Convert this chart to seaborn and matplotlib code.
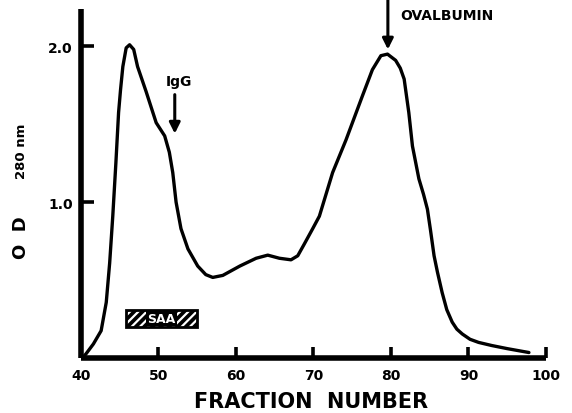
import matplotlib
matplotlib.use("Agg")
import matplotlib.pyplot as plt
from matplotlib.patches import Rectangle
import seaborn as sns
import pandas as pd

# elution profile
fraction = [40.2, 40.7, 41.6, 42.6, 43.26, 43.7, 44.1, 44.5, 44.85, 45.1,
            45.4, 45.83, 46.27, 46.8, 47.3, 48.4, 49.7, 50.8, 51.4, 51.84,
            52.27, 52.9, 53.8, 55.06, 56.1, 57.0, 58.3, 60.5, 62.6, 64.1,
            65.6, 67.1, 67.97, 68.8, 69.9, 70.76, 72.47, 74.2, 76.3, 77.6,
            78.7, 79.55, 80.6, 81.2, 81.7, 82.3, 82.77, 83.6, 84.2, 84.7,
            85.1, 85.56, 86.0, 86.6, 87.2, 87.9, 88.5, 89.2, 90.2, 91.3,
            93.0, 95.0, 97.8]
od_280 = [0.00, 0.03, 0.09, 0.175, 0.357, 0.61, 0.91, 1.25, 1.575, 1.72,
          1.87, 1.99, 2.01, 1.98, 1.87, 1.71, 1.51, 1.425, 1.32, 1.19,
          1.00, 0.83, 0.70, 0.59, 0.535, 0.517, 0.53, 0.59, 0.64, 0.66,
          0.64, 0.63, 0.656, 0.73, 0.83, 0.91, 1.19, 1.40, 1.68, 1.85,
          1.94, 1.95, 1.91, 1.86, 1.79, 1.575, 1.36, 1.15, 1.05, 0.955,
          0.82, 0.656, 0.55, 0.42, 0.31, 0.23, 0.185, 0.154, 0.12, 0.10,
          0.08, 0.06, 0.035]

x_ticks = [40, 50, 60, 70, 80, 90, 100]
y_ticks = [1.0, 2.0]
y_tick_labels = ["1.0", "2.0"]

igg_pos = 52.1
ovalbumin_pos = 79.6
saa_range = (45.8, 55.0)

df = pd.DataFrame({"fraction": fraction, "od": od_280})

sns.set_style("ticks")
plt.rcParams["font.family"] = ["DejaVu Sans"]
plt.rcParams["font.weight"] = "bold"
plt.rcParams["hatch.linewidth"] = 1.6
for key in ["text.color", "axes.labelcolor", "axes.edgecolor",
            "xtick.color", "ytick.color"]:
    plt.rcParams[key] = "black"

fig = plt.figure(figsize=(5.72, 4.14), dpi=100)
ax = fig.add_axes([0.1416, 0.1329, 0.8129, 0.8431])

sns.lineplot(data=df, x="fraction", y="od", ax=ax, color="black",
             linewidth=2.4, sort=False, solid_joinstyle="round",
             solid_capstyle="round")

ax.set_xlim(40, 100)
ax.set_ylim(0, 2.24)
ax.set_xticks(x_ticks)
ax.set_xticklabels([str(t) for t in x_ticks], fontsize=10, fontweight="bold")
ax.set_yticks(y_ticks)
ax.set_yticklabels(y_tick_labels, fontsize=10, fontweight="bold")
ax.tick_params(axis="x", direction="in", length=8, width=2.6, pad=7)
ax.tick_params(axis="y", direction="in", length=9.5, width=2.6, pad=6)
ax.set_xlabel("")
ax.set_ylabel("")
for side in ["top", "right"]:
    ax.spines[side].set_visible(False)
for side in ["left", "bottom"]:
    ax.spines[side].set_linewidth(4)
    ax.spines[side].set_capstyle("butt")

fig.text(0.5442, 0.028, "FRACTION  NUMBER", ha="center", va="center",
         fontsize=15, fontweight="bold")
fig.text(0.036, 0.425, "O  D", rotation=90, ha="center", va="center",
         fontsize=13, fontweight="bold")
fig.text(0.038, 0.635, "280 nm", rotation=90, ha="center", va="center",
         fontsize=9.5, fontweight="bold")

# peak markers
ax.annotate("", xy=(igg_pos, 1.44), xytext=(igg_pos, 1.69),
            arrowprops=dict(arrowstyle="-|>", color="black", lw=2.2,
                            mutation_scale=16, shrinkA=0, shrinkB=0))
ax.text(52.6, 1.78, "IgG", ha="center", va="center", fontsize=10,
        fontweight="bold")
ax.annotate("", xy=(ovalbumin_pos, 1.98), xytext=(ovalbumin_pos, 2.30),
            arrowprops=dict(arrowstyle="-|>", color="black", lw=2.2,
                            mutation_scale=16, shrinkA=0, shrinkB=0),
            annotation_clip=False)
ax.text(81.2, 2.20, "OVALBUMIN", ha="left", va="center", fontsize=10,
        fontweight="bold", clip_on=False)

# SAA elution window
ax.add_patch(Rectangle((saa_range[0], 0.20), saa_range[1] - saa_range[0], 0.11,
                       facecolor="black", edgecolor="white", hatch="////",
                       linewidth=0))
ax.add_patch(Rectangle((saa_range[0], 0.20), saa_range[1] - saa_range[0], 0.11,
                       fill=False, edgecolor="black", linewidth=2))
ax.text(sum(saa_range) / 2, 0.255, "SAA", ha="center", va="center",
        fontsize=9, fontweight="bold", color="white",
        bbox=dict(boxstyle="square,pad=0.12", facecolor="black",
                  edgecolor="none"))

fig.savefig("out.png", dpi=100)
